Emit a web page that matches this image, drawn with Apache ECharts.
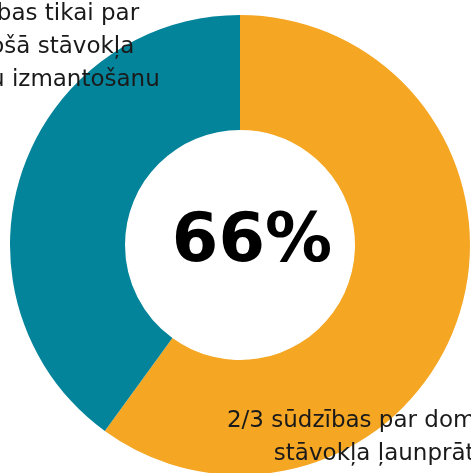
<!DOCTYPE html>
<html>
<head>
<meta charset="utf-8">
<script src="https://cdn.jsdelivr.net/npm/echarts@6/dist/echarts.min.js"></script>
<style>
  html, body { margin: 0; padding: 0; background: #fff; }
  #box { width: 471px; height: 473px; }
</style>
</head>
<body>
<div id="box"></div>
<script>
// dati
const names = [
  '2/3 sūdzības par dominējošā\nstāvokļa ļaunprātīgu\nizmantošanu',
  '1/3 sūdzības tikai par\ndominējošā stāvokļa\nļaunprātīgu izmantošanu'
]
const values = [60, 40]
const colors = ['#F5A623', '#03849A']
const centerLabel = '66%'

// kur likt tekstus
const labelPos = [
  { x: 392, y: 454 },
  { x: 16, y: 47 }
]

const myChart = echarts.init(document.getElementById('box'))

let option = {
  animation: false,
  graphic: [
    {
      type: 'text',
      x: 252,
      y: 244,
      z: 10,
      style: {
        text: centerLabel,
        font: 'bold 67px "DejaVu Sans"',
        fill: '#000',
        align: 'center',
        verticalAlign: 'middle'
      }
    }
  ],
  series: [
    {
      type: 'pie',
      center: [240, 245],
      radius: [115, 230],
      startAngle: 90,
      silent: true,
      data: names.map((n, i) => ({
        name: n,
        value: values[i],
        itemStyle: { color: colors[i] }
      })),
      label: {
        show: true,
        position: 'inside',
        formatter: '{b}',
        color: '#1a1a1a',
        fontFamily: 'DejaVu Sans',
        fontSize: 23,
        lineHeight: 33,
        align: 'center'
      },
      labelLine: { show: false },
      labelLayout: (params) => ({
        x: labelPos[params.dataIndex].x,
        y: labelPos[params.dataIndex].y,
        align: 'center',
        verticalAlign: 'middle'
      })
    }
  ]
}

myChart.setOption(option)
</script>
</body>
</html>
